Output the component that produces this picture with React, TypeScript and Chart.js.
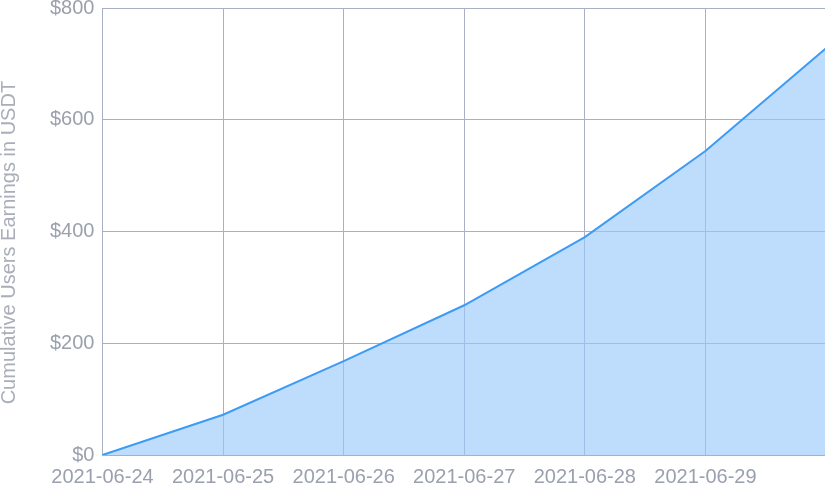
import React, { useEffect, useRef } from "react";
import { Chart, registerables } from "chart.js";

Chart.register(...registerables);

const dates = ["2021-06-24", "2021-06-25", "2021-06-26", "2021-06-27", "2021-06-28", "2021-06-29", "2021-06-30"];
const earnings = [0, 72, 168, 268, 390, 544, 728];
const yTicks = [0, 200, 400, 600, 800];
const yTitle = "Cumulative Users Earnings in USDT";

export default function App() {
  const ref = useRef<HTMLCanvasElement | null>(null);
  useEffect(() => {
    document.body.style.margin = "0";
    const ctx = ref.current!;
    const chart = new Chart(ctx, {
      type: "line",
      data: {
        labels: dates,
        datasets: [
          {
            data: earnings,
            borderColor: "#3d9bf5",
            backgroundColor: "rgba(150,200,250,0.62)",
            borderWidth: 2,
            fill: "origin",
            pointRadius: 0,
            tension: 0,
          },
        ],
      },
      options: {
        animation: false,
        responsive: true,
        maintainAspectRatio: false,
        layout: { padding: 0 },
        plugins: { legend: { display: false }, tooltip: { enabled: false } },
        scales: {
          x: {
            grid: { color: "#aab0c4", drawTicks: false, lineWidth: 1 },
            border: { color: "#aab0c4" },
            ticks: {
              color: "#9aa0ad",
              font: { family: "Liberation Sans", size: 20 },
              padding: 10,
              maxRotation: 0,
              autoSkip: false,
              callback: (v: any, i: number) => (i === dates.length - 1 ? "" : dates[i]),
            },
          },
          y: {
            min: 0,
            max: 800,
            afterBuildTicks: (axis: any) => {
              axis.ticks = yTicks.map((v) => ({ value: v }));
            },
            grid: { color: "#aab0c4", drawTicks: false },
            border: { color: "#aab0c4" },
            title: {
              display: true,
              text: yTitle + "\u00a0\u00a0\u00a0\u00a0",
              color: "#a9aeb9",
              font: { family: "Liberation Sans", size: 20 },
              padding: { top: 0, bottom: 21 },
            },
            ticks: {
              color: "#9aa0ad",
              font: { family: "Liberation Sans", size: 20 },
              padding: 8,
              callback: (v: any) => "$" + v,
            },
          },
        },
      },
    });
    return () => chart.destroy();
  }, []);
  return (
    <div style={{ width: 825, height: 485, position: "relative", overflow: "hidden" }}>
      <div style={{ position: "absolute", left: -3, top: -12, width: 839, height: 511 }}>
        <canvas ref={ref} />
      </div>
    </div>
  );
}
